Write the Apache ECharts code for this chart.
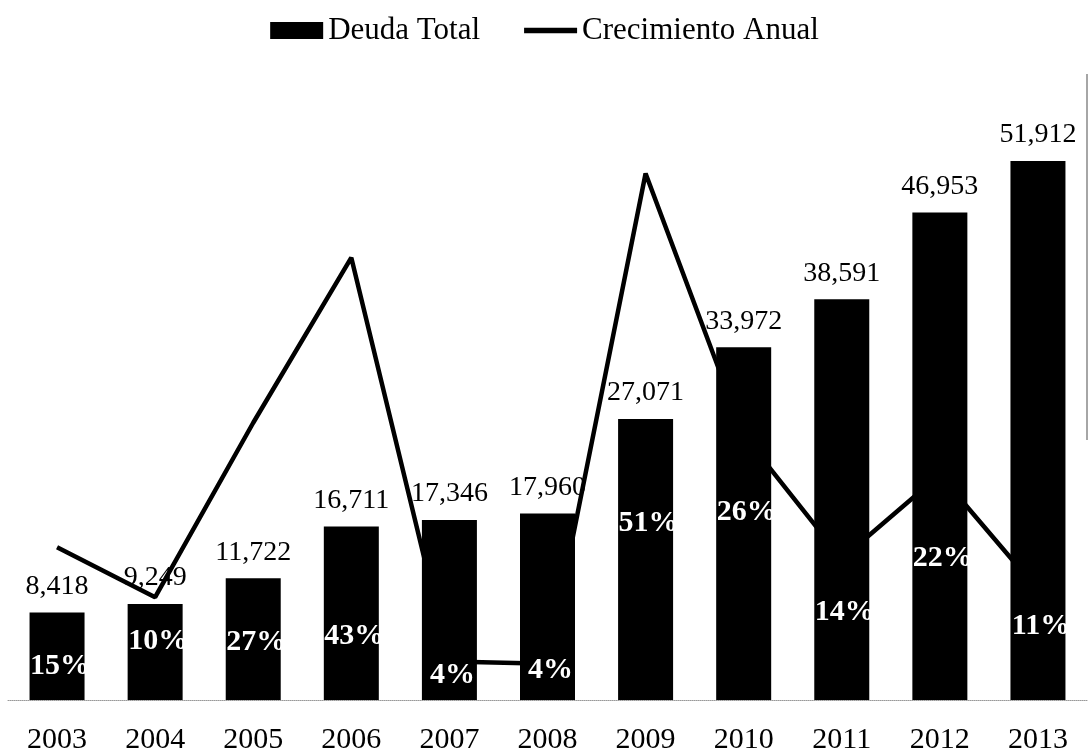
<!DOCTYPE html>
<html>
<head>
<meta charset="utf-8">
<script src="https://cdn.jsdelivr.net/npm/echarts@6/dist/echarts.min.js"></script>
<style>
  html, body { margin: 0; padding: 0; background: #fff; }
  #chart { width: 1089px; height: 748px; }
</style>
</head>
<body>
<div id="chart"></div>
<script>
var years = ['2003', '2004', '2005', '2006', '2007', '2008', '2009', '2010', '2011', '2012', '2013'];
var debt = [8418, 9249, 11722, 16711, 17346, 17960, 27071, 33972, 38591, 46953, 51912];
var growth = [14.7, 9.9, 26.7, 42.6, 3.7, 3.5, 50.7, 25.5, 13.6, 21.7, 10.6];

// how high the white % labels sit above the baseline (px), as placed in the original
var pctLift = [19, 44, 43, 49, 10, 15, 162, 173, 73, 127, 59];

var font = 'Liberation Serif';

var chart = echarts.init(document.getElementById('chart'));

var pctData = debt.map(function (v, i) {
    return { value: v, label: { distance: pctLift[i] } };
});

var option = {
    animation: false,
    textStyle: { fontFamily: font },
    legend: {
        data: [
            { name: 'Deuda Total', icon: 'rect' },
            { name: 'Crecimiento Anual', icon: 'path://M0,0 L10,0 L10,1 L0,1 Z' }
        ],
        top: 10,
        left: 'center',
        itemWidth: 53,
        itemHeight: 17,
        itemGap: 44,
        textStyle: { fontFamily: font, fontSize: 31, color: '#000' }
    },
    grid: {
        left: 8,
        right: 2,
        top: 77,
        bottom: 48,
        outerBoundsMode: 'none'
    },
    xAxis: {
        type: 'category',
        data: years,
        axisLine: { lineStyle: { color: '#999', type: 'dotted', width: 1 } },
        axisTick: { show: false },
        axisLabel: { fontFamily: font, fontSize: 30, color: '#000', margin: 25 }
    },
    yAxis: [
        { type: 'value', min: 0, max: 60000, show: false },
        { type: 'value', min: 0, max: 60, show: false }
    ],
    series: [
        {
            name: 'Crecimiento Anual',
            type: 'line',
            yAxisIndex: 1,
            z: 1,
            data: growth,
            symbol: 'none',
            lineStyle: { color: '#000', width: 4.5 },
            itemStyle: { color: '#000' }
        },
        {
            name: 'Deuda Total',
            type: 'bar',
            z: 3,
            data: debt,
            barWidth: 55,
            itemStyle: { color: '#000' },
            label: {
                show: true,
                position: 'top',
                distance: 12,
                fontFamily: font,
                fontSize: 28,
                color: '#000',
                formatter: function (p) { return p.value.toLocaleString('en-US'); }
            }
        },
        {
            name: 'pct',
            type: 'bar',
            z: 4,
            data: pctData,
            barWidth: 55,
            barGap: '-100%',
            itemStyle: { color: 'rgba(0,0,0,0)' },
            label: {
                show: true,
                position: 'insideBottom',
                offset: [3, 0],
                fontFamily: font,
                fontWeight: 'bold',
                fontSize: 30,
                color: '#fff',
                formatter: function (p) { return Math.round(growth[p.dataIndex]) + '%'; }
            }
        }
    ],
    graphic: [
        {
            type: 'line',
            shape: { x1: 1087, y1: 74, x2: 1087, y2: 440 },
            style: { stroke: '#888', lineWidth: 1.5 }
        }
    ]
};

chart.setOption(option);
</script>
</body>
</html>
